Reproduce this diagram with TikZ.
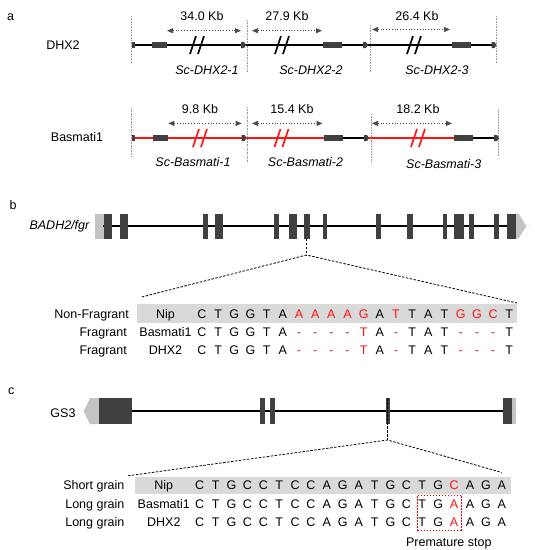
\documentclass[tikz,border=0pt]{standalone}
\usepackage{fontspec}
\setmainfont{Liberation Sans}
\usetikzlibrary{arrows.meta}
\definecolor{exon}{HTML}{404040}
\definecolor{utr}{HTML}{C4C4C4}
\definecolor{barbg}{HTML}{D9D9D9}
\definecolor{mred}{HTML}{FF1414}
\definecolor{vgray}{HTML}{9A9A9A}
\begin{document}
\begin{tikzpicture}[x=1pt,y=-1pt,
  font=\fontsize{12.5}{15}\selectfont,
  t/.style={inner sep=0pt,text height=9pt,text depth=0pt},
  tit/.style={t,font=\fontsize{12.5}{15}\selectfont\itshape},
  vdot/.style={vgray,densely dotted,line width=0.6pt},
  spanarr/.style={black!70,dotted,line width=0.8pt,{Triangle[length=6pt,width=5pt]}-{Triangle[length=6pt,width=5pt]}},
  chrom/.style={line width=2.2pt},
  exonbox/.style={fill=exon,draw=none},
  utrbox/.style={fill=utr,draw=none},
  zoomline/.style={line width=0.8pt,dash pattern=on 2.5pt off 1.5pt},
  brk/.style={line width=1.7pt},
  stopbox/.style={draw=red,line width=1.1pt,dash pattern=on 1.8pt off 1.2pt}
]
\useasboundingbox (0,0) rectangle (535,550);

% ---------------- panel a ----------------
\node[t] (la) at (10.5,16) {a};
\node[t] (ldhx) at (63,45) {DHX2};
\node[t] (lbas) at (77,137) {Basmati1};

% DHX2 row
\draw[vdot] (131.5,16) -- (131.5,64);
\draw[vdot] (247.5,20) -- (247.5,72);
\draw[vdot] (370.5,25) -- (370.5,72);
\draw[vdot] (496.5,16) -- (496.5,64);
\draw[chrom] (131.5,45) -- (496,45);
\fill[exon] (131.5,42) rectangle (135,48);
\foreach \x in {244,366,494.5}
  \fill[exon] (\x-3,42) -- (\x,42) -- (\x+2,45) -- (\x,48) -- (\x-3,48) -- cycle;
\fill[exonbox] (152,42) rectangle (167,48);
\fill[exonbox] (323,42) rectangle (342,48);
\fill[exonbox] (452,42) rectangle (471,48);
\foreach \x in {197,282,414}{
  \draw[brk] (\x-7,54) -- (\x-1,36);
  \draw[brk] (\x+1,54) -- (\x+7,36);
}
\coordinate (d1a) at (167,30.7); \coordinate (d1b) at (241,30.7);
\coordinate (d2a) at (252,30.7); \coordinate (d2b) at (322,30.7);
\coordinate (d3a) at (372,29.5); \coordinate (d3b) at (450,29.5);
\draw[spanarr] (d1a) -- (d1b);
\draw[spanarr] (d2a) -- (d2b);
\draw[spanarr] (d3a) -- (d3b);
\node[t] (kb1) at (202,16) {34.0 Kb};
\node[t] (kb2) at (287,16) {27.9 Kb};
\node[t] (kb3) at (417,16) {26.4 Kb};
\node[tit] (sd1) at (207,70) {Sc-DHX2-1};
\node[tit] (sd2) at (311,70) {Sc-DHX2-2};
\node[tit] (sd3) at (437,70) {Sc-DHX2-3};

% Basmati1 row
\draw[vdot] (131.5,108) -- (131.5,157);
\draw[vdot] (247.5,107) -- (247.5,163);
\draw[vdot] (371,114) -- (371,163);
\draw[vdot] (498.5,109) -- (498.5,157);
\draw[chrom,mred] (131.5,138) -- (323.5,138);
\draw[chrom] (343,138) -- (367,138);
\draw[chrom,mred] (367,138) -- (454,138);
\draw[chrom] (472.7,138) -- (497.5,138);
\fill[exon] (131.5,135) rectangle (135,141);
\foreach \x in {244.5,367,497}
  \fill[exon] (\x-3,135) -- (\x,135) -- (\x+2,138) -- (\x,141) -- (\x-3,141) -- cycle;
\fill[exonbox] (153,135) rectangle (168.3,141);
\fill[exonbox] (323.5,135) rectangle (343,141);
\fill[exonbox] (454,135) rectangle (472.7,141);
\foreach \x in {200,281.5,418}{
  \draw[brk,mred] (\x-7,147) -- (\x-1,129);
  \draw[brk,mred] (\x+1,147) -- (\x+7,129);
}
\coordinate (b1a) at (168.3,123.4); \coordinate (b1b) at (241.7,123.4);
\coordinate (b2a) at (252,123.4); \coordinate (b2b) at (322.5,123.4);
\coordinate (b3a) at (372,123.4); \coordinate (b3b) at (452,123.4);
\draw[spanarr] (b1a) -- (b1b);
\draw[spanarr] (b2a) -- (b2b);
\draw[spanarr] (b3a) -- (b3b);
\node[t] (kb4) at (200,109) {9.8 Kb};
\node[t] (kb5) at (292,109) {15.4 Kb};
\node[t] (kb6) at (418,109) {18.2 Kb};
\node[tit] (sb1) at (193,162) {Sc-Basmati-1};
\node[tit] (sb2) at (305.5,162) {Sc-Basmati-2};
\node[tit] (sb3) at (443.7,163.5) {Sc-Basmati-3};

% ---------------- panel b ----------------
\node[t] (lb) at (13,205) {b};
\node[tit,anchor=east] (lbadh) at (89.5,225) {BADH2/fgr};
\fill[utrbox] (95,213.5) rectangle (103.5,238.5);
\fill[utrbox] (516,213.5) -- (518.5,213.5) -- (526.5,226) -- (518.5,238.5) -- (516,238.5) -- cycle;
\fill[utr] (528,226) circle (0.6);
\draw[chrom] (103,226) -- (516,226);
\foreach \a/\b in {104/111.7,120/127.7,203.3/207.7,215/223.3,274.3/279.3,289.3/297.3,303.5/309.5,322.7/327.3,376/380.7,407.3/413.3,442.7/447.3,454.3/464,469.3/474,494/499.3,507.3/516}
  \fill[exonbox] (\a,213.5) rectangle (\b,238.5);
\coordinate (bz0) at (306.5,213.5);
\coordinate (bz1) at (306.5,255);
\coordinate (bzl) at (141.7,297);
\coordinate (bzr) at (517,303);
\draw[zoomline,black!80] (bz0) -- (306.5,238.5);
\draw[zoomline] (306.5,238.5) -- (bz1);
\draw[zoomline] (bzl) -- (bz1) -- (bzr);

\fill[barbg] (137.2,304) rectangle (517,322.5);
\node[t,anchor=east] (bn1) at (129,314) {Non-Fragrant};
\node[t,anchor=east] (bn2) at (127,332) {Fragrant};
\node[t,anchor=east] (bn3) at (127,350) {Fragrant};
\node[t] (bc1) at (165.5,314) {Nip};
\node[t] (bc2) at (165.5,332) {Basmati1};
\node[t] (bc3) at (165.5,350) {DHX2};
\foreach \ch/\col [count=\i from 0] in {C/black,T/black,G/black,G/black,T/black,A/black,A/mred,A/mred,A/mred,A/mred,G/mred,A/black,T/mred,T/black,A/black,T/black,G/mred,G/mred,C/mred,T/black}
  \node[t,text=\col] (bs1-\i) at ({202+\i*16.17},314) {\ch};
\foreach \r/\yy in {2/332,3/350}
  \foreach \ch/\col [count=\i from 0] in {C/black,T/black,G/black,G/black,T/black,A/black,-/mred,-/mred,-/mred,-/mred,T/mred,A/black,-/mred,T/black,A/black,T/black,-/mred,-/mred,-/mred,T/black}
    \node[t,text=\col] (bs\r-\i) at ({202+\i*16.17},\yy) {\ch};

% ---------------- panel c ----------------
\node[t] (lc) at (11.3,390) {c};
\node[t] (lgs) at (63,413) {GS3};
\fill[utrbox] (83.6,411.2) -- (90,398.2) -- (99,398.2) -- (99,424.2) -- (90,424.2) -- cycle;
\draw[chrom] (132,411.2) -- (512,411.2);
\foreach \a/\b in {99/132,260/264.5,269.6/274.7,385.7/389.8,503.4/512}
  \fill[exonbox] (\a,398.2) rectangle (\b,424.2);
\fill[utrbox] (512,398.2) rectangle (515.5,424.2);
\fill[utr] (517,411.2) circle (0.6);
\coordinate (cz0) at (387.6,398.2);
\coordinate (cz1) at (387.6,440);
\coordinate (czl) at (128,475.8);
\coordinate (czr) at (501.7,472.4);
\draw[zoomline] (cz0) -- (cz1);
\draw[zoomline] (czl) -- (cz1) -- (czr);

\fill[barbg] (134.8,477) rectangle (511,494);
\node[t,anchor=east] (cn1) at (124.6,485.4) {Short grain};
\node[t,anchor=east] (cn2) at (124.6,503.8) {Long grain};
\node[t,anchor=east] (cn3) at (124.6,521.9) {Long grain};
\node[t] (cc1) at (163.8,485.4) {Nip};
\node[t] (cc2) at (163.8,503.8) {Basmati1};
\node[t] (cc3) at (163.8,521.9) {DHX2};
\foreach \ch/\col [count=\i from 0] in {C/black,T/black,G/black,C/black,C/black,T/black,C/black,C/black,A/black,G/black,A/black,T/black,G/black,C/black,T/black,G/black,C/mred,A/black,G/black,A/black}
  \node[t,text=\col] (cs1-\i) at ({199.7+\i*15.9},485.4) {\ch};
\foreach \r/\yy in {2/503.8,3/521.9}
  \foreach \ch/\col [count=\i from 0] in {C/black,T/black,G/black,C/black,C/black,T/black,C/black,C/black,A/black,G/black,A/black,T/black,G/black,C/black,T/black,G/black,A/mred,A/black,G/black,A/black}
    \node[t,text=\col] (cs\r-\i) at ({199.7+\i*15.9},\yy) {\ch};
\coordinate (sb-nw) at (417.5,495.8);
\coordinate (sb-ne) at (461.5,495.8);
\coordinate (sb-se) at (461.5,530.5);
\coordinate (sb-sw) at (417.5,530.5);
\draw[stopbox] (sb-nw) -- (sb-ne);
\draw[stopbox] (sb-ne) -- (sb-se);
\draw[stopbox] (sb-sw) -- (sb-se);
\draw[stopbox] (sb-nw) -- (sb-sw);
\node[t] (pstop) at (448.8,542.4) {Premature stop};
\end{tikzpicture}
\end{document}
